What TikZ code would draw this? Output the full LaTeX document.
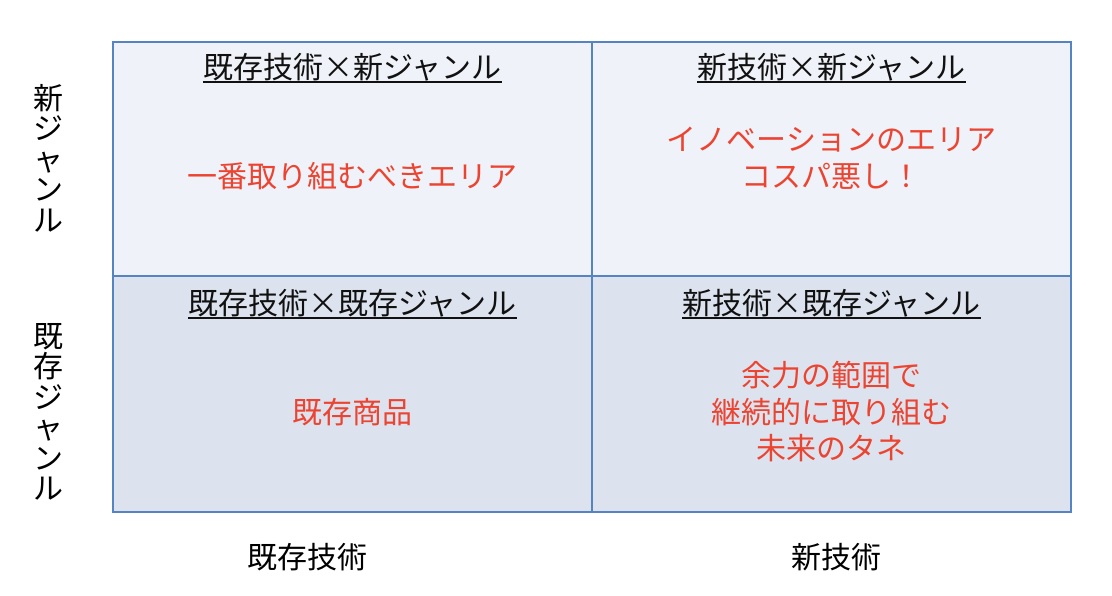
\documentclass[tikz,border=0pt]{standalone}
\usepackage{fontspec}
\setmainfont{Noto Sans CJK JP}
\definecolor{gridblue}{HTML}{5584C2}
\definecolor{topfill}{HTML}{EFF2F8}
\definecolor{botfill}{HTML}{DCE3EE}
\definecolor{redtxt}{HTML}{EC4431}
\definecolor{blacktxt}{HTML}{111111}
\begin{document}
\begin{tikzpicture}[x=1pt,y=-1pt,
  cell/.style={draw=gridblue,line width=1.3pt},
  head/.style={inner sep=0pt,text=blacktxt,font=\fontsize{30}{36}\selectfont},
  note/.style={inner sep=0pt,text=redtxt,align=center,font=\fontsize{30}{36.5}\selectfont},
  axis/.style={inner sep=0pt,text=black,align=center,font=\fontsize{30}{30.5}\selectfont},
  uline/.style={line width=1.6pt,draw=blacktxt}]
\useasboundingbox (0,0) rectangle (1112,596);
% cells
\fill[topfill] (113,42) rectangle (1071,276);
\fill[botfill] (113,276) rectangle (1071,512);
\draw[cell] (113,42) rectangle (1071,512);
\draw[cell] (592,42) -- (592,512);
\draw[cell] (113,276) -- (1071,276);
% headers
\node[head] (h1) at (352.5,67) {既存技術×新ジャンル};
\node[head] (h2) at (831.5,67) {新技術×新ジャンル};
\node[head] (h3) at (352.5,303) {既存技術×既存ジャンル};
\node[head] (h4) at (831.5,303) {新技術×既存ジャンル};
\foreach \h in {h1,h2,h3,h4}{
  \draw[uline] ([yshift=-1pt]\h.south west) -- ([yshift=-1pt]\h.south east);
}
% notes
\node[note] (n1) at (352.5,176) {一番取り組むべきエリア};
\node[note] (n2) at (831.5,158) {イノベーションのエリア\\コスパ悪し！};
\node[note] (n3) at (352.5,412) {既存商品};
\node[note] (n4) at (831.5,412) {余力の範囲で\\継続的に取り組む\\未来のタネ};
% axis labels
\node[axis] (a1) at (49,158) {新\\ジ\\ャ\\ン\\ル};
\node[axis] (a2) at (49,412) {既\\存\\ジ\\ャ\\ン\\ル};
\node[axis] (a3) at (307.5,557) {既存技術};
\node[axis] (a4) at (836,557) {新技術};
\end{tikzpicture}
\end{document}
